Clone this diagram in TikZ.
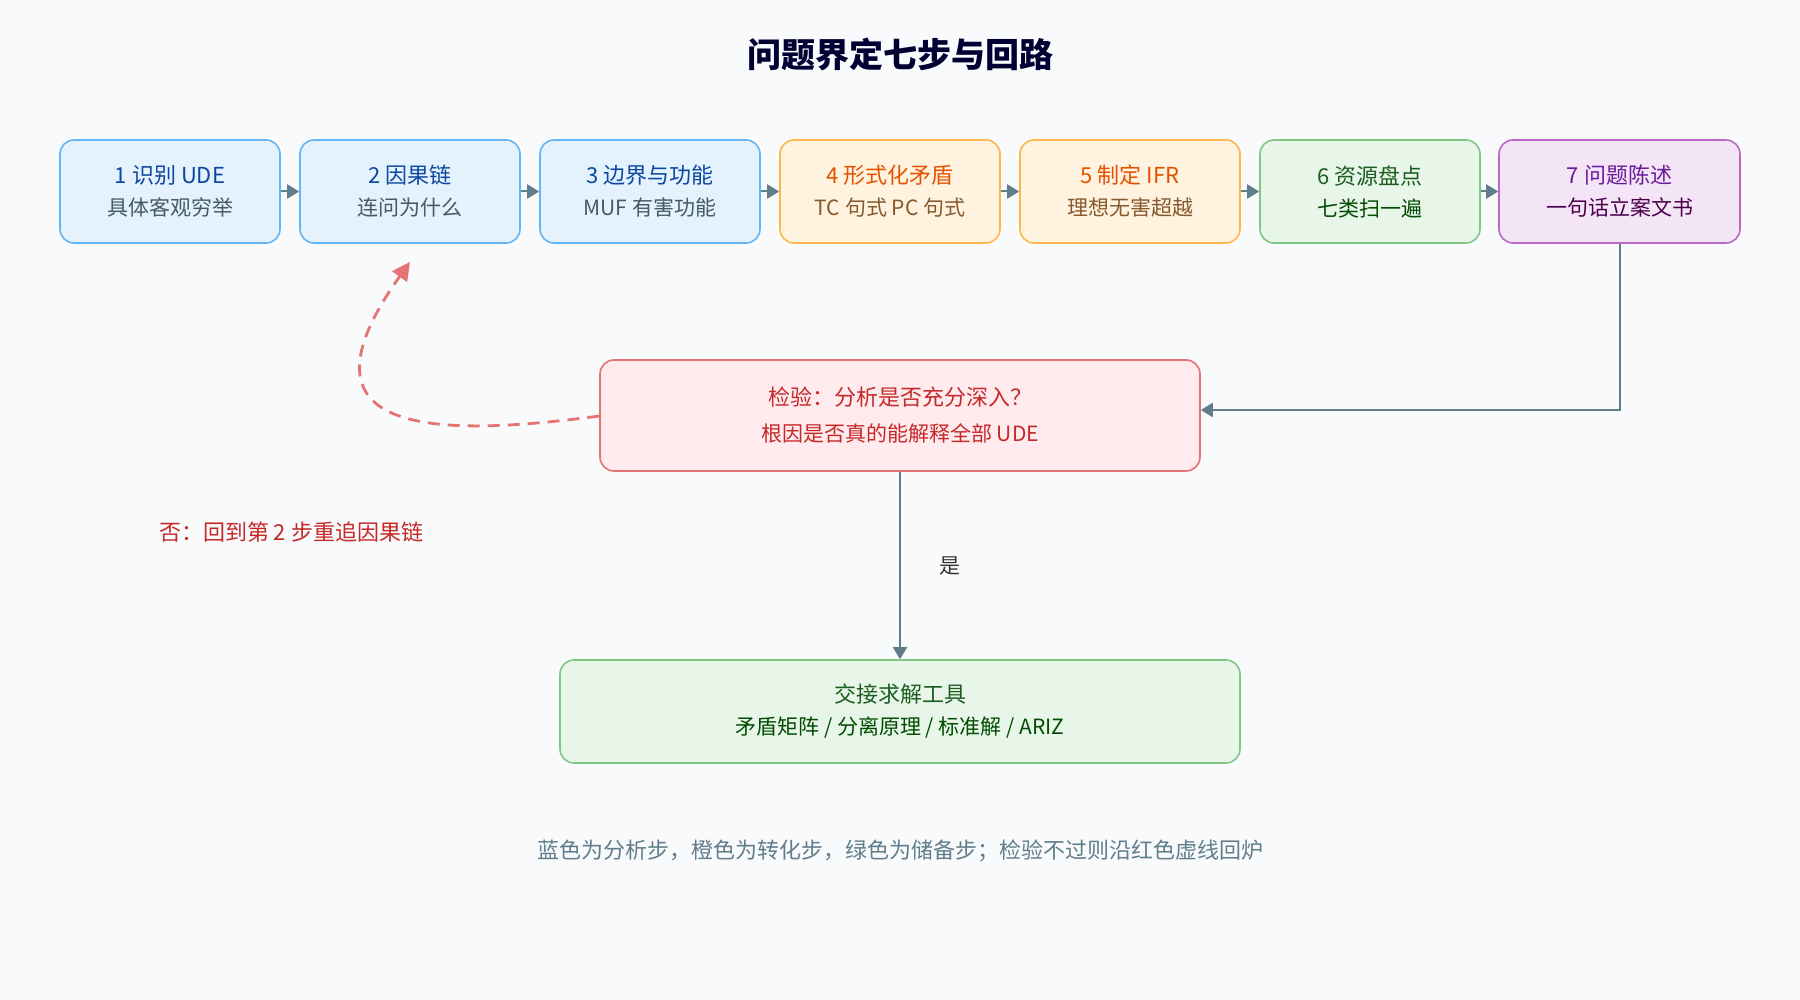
\documentclass[tikz,border=0pt]{standalone}
\usepackage{fontspec}
\setmainfont{Noto Sans CJK SC}
\usetikzlibrary{positioning,calc,arrows.meta}
\definecolor{bgc}{HTML}{F8FAFC}
\definecolor{linec}{HTML}{607D8B}
\definecolor{bluef}{HTML}{E3F2FD}\definecolor{blued}{HTML}{64B5F6}\definecolor{bluet}{HTML}{0D47A1}
\definecolor{orf}{HTML}{FFF3E0}\definecolor{ord}{HTML}{FFB74D}\definecolor{ort}{HTML}{E65100}
\definecolor{grf}{HTML}{E8F5E9}\definecolor{grd}{HTML}{81C784}\definecolor{grt}{HTML}{1B5E20}
\definecolor{puf}{HTML}{F3E5F5}\definecolor{pud}{HTML}{BA68C8}\definecolor{put}{HTML}{6A1B9A}
\definecolor{ref}{HTML}{FFEBEE}\definecolor{redd}{HTML}{E57373}\definecolor{ret}{HTML}{C62828}
\definecolor{subt}{HTML}{455A64}
\tikzset{
  stepbox/.style={rectangle, rounded corners=7pt, line width=0.8pt, minimum width=110pt, minimum height=51.5pt, align=center, font=\fontsize{11}{16}\selectfont},
  bluebox/.style={stepbox, fill=bluef, draw=blued, text=bluet},
  orbox/.style={stepbox, fill=orf, draw=ord, text=ort},
  grbox/.style={stepbox, fill=grf, draw=grd, text=grt},
  pubox/.style={stepbox, fill=puf, draw=pud, text=put},
  flow/.style={-{Triangle[length=6pt,width=7pt]}, draw=linec, line width=1pt},
}
\begin{document}
\begin{tikzpicture}[x=0.5pt, y=-0.5pt]
        \fill[bgc] (0,0) rectangle (1800,1000);
        \useasboundingbox (0,0) rectangle (1800,1000);

        % title
        \node[font=\fontsize{17}{20}\selectfont\bfseries, text=black!80!blue] (title) at (900,54) {问题界定七步与回路};

        % seven steps
        \node[bluebox] (s1) at (170,191.5) {1 识别 UDE\\{\color{subt}\fontsize{10.5}{14}\selectfont 具体客观穷举}};
        \node[bluebox] (s2) at (410,191.5) {2 因果链\\{\color{subt}\fontsize{10.5}{14}\selectfont 连问为什么}};
        \node[bluebox] (s3) at (650,191.5) {3 边界与功能\\{\color{subt}\fontsize{10.5}{14}\selectfont MUF 有害功能}};
        \node[orbox] (s4) at (890,191.5) {4 形式化矛盾\\{\color{brown!70!black}\fontsize{10.5}{14}\selectfont TC 句式 PC 句式}};
        \node[orbox] (s5) at (1130,191.5) {5 制定 IFR\\{\color{brown!70!black}\fontsize{10.5}{14}\selectfont 理想无害超越}};
        \node[grbox] (s6) at (1370,191.5) {6 资源盘点\\{\color{green!30!black}\fontsize{10.5}{14}\selectfont 七类扫一遍}};
        \node[pubox, minimum width=120.5pt] (s7) at (1619.5,191.5) {7 问题陈述\\{\color{violet!60!black}\fontsize{10.5}{14}\selectfont 一句话立案文书}};

        % step to step
        \draw[flow] (s1) -- (s2);
        \draw[flow] (s2) -- (s3);
        \draw[flow] (s3) -- (s4);
        \draw[flow] (s4) -- (s5);
        \draw[flow] (s5) -- (s6);
        \draw[flow] (s6) -- (s7);

        % check
        \node[stepbox, fill=ref, draw=redd, text=ret, minimum width=300pt, minimum height=55.5pt, font=\fontsize{11}{18}\selectfont] (check) at (900,415.5) {检验：分析是否充分深入？\\{\fontsize{10.5}{14}\selectfont 根因是否真的能解释全部 UDE}};
        \coordinate (turn) at (s7.south |- 0,410);
        \draw[flow] (s7.south) -- (turn) -- (check.east |- turn);

        % solve
        \node[grbox, minimum width=340pt, minimum height=51.5pt] (solve) at (900,711.5) {交接求解工具\\{\color{green!30!black}\fontsize{10.5}{14}\selectfont 矛盾矩阵 / 分离原理 / 标准解 / ARIZ}};
        \draw[flow] (check) -- node[right=16pt, text=black!80, font=\fontsize{10.5}{14}\selectfont] (yes) {是} (solve);

        % loop back
        \coordinate (back) at (410,262);
        \draw[redd, dashed, line width=1.4pt, dash pattern=on 6pt off 4pt, -{Triangle[length=9pt,width=9pt]}] (check.west |- 0,416) .. controls (420,440) and (290,430) .. (back);
        \node[text=ret, font=\fontsize{11}{14}\selectfont, anchor=west] (no) at (152,532) {否：回到第 2 步重追因果链};

        % note
        \node[text=linec, font=\fontsize{11}{14}\selectfont] (note) at (900,851) {蓝色为分析步，橙色为转化步，绿色为储备步；检验不过则沿红色虚线回炉};
\end{tikzpicture}
\end{document}
